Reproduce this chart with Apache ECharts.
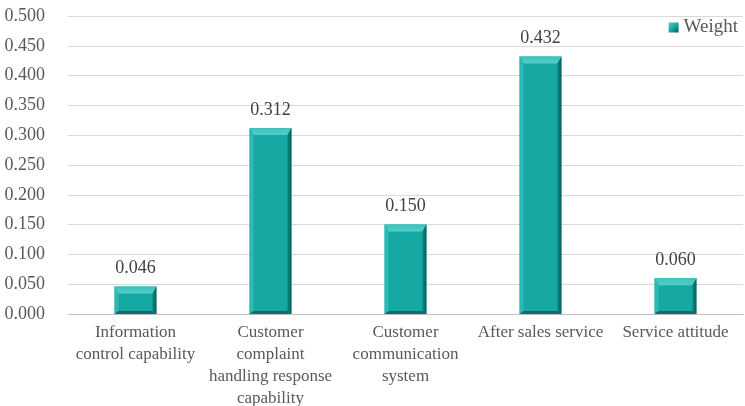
<!DOCTYPE html>
<html>
<head>
<meta charset="utf-8">
<script src="https://cdn.jsdelivr.net/npm/echarts@6/dist/echarts.min.js"></script>
<style>
  html, body { margin: 0; padding: 0; background: #fff; }
  #chart { width: 745px; height: 406px; }
</style>
</head>
<body>
<div id="chart"></div>
<script>
// Category names (line breaks as shown under the axis)
const categories = [
  'Information\ncontrol capability',
  'Customer\ncomplaint\nhandling response\ncapability',
  'Customer\ncommunication\nsystem',
  'After sales service',
  'Service attitude'
];
// Weight per indicator
const weights = [0.046, 0.312, 0.150, 0.432, 0.060];
const seriesName = 'Weight';

const FONT = '"Liberation Serif", "Times New Roman", serif';
const TEXT = '#595959';
const FACE = '#16A9A4';
const TOP = '#52CEC8';
const LEFT = '#2DB9B3';
const RIGHT = '#0A5F5C';
const BOTTOM = '#0B6E6A';

// Bevelled bar: a flat face with four slanted edges
function renderBevelBar(params, api) {
  const v = api.value(1);
  const base = api.coord([api.value(0), 0]);
  const top = api.coord([api.value(0), v]);
  const w = api.size([1, 0])[0] * 0.31;
  const x0 = base[0] - w / 2, x1 = base[0] + w / 2;
  const y0 = top[1], y1 = base[1];
  const h = y1 - y0;
  const bt = Math.min(7, h / 4);   // top bevel depth
  const bs = 4;                     // side bevel
  const bb = Math.min(3, h / 8);   // bottom bevel
  return {
    type: 'group',
    children: [
      { type: 'rect', shape: { x: x0, y: y0, width: w, height: h }, style: { fill: FACE } },
      { type: 'polygon', shape: { points: [[x0, y0], [x1, y0], [x1 - bs, y0 + bt], [x0 + bs, y0 + bt]] },
        style: { fill: { type: 'linear', x: 0, y: 0, x2: 0, y2: 1,
          colorStops: [{ offset: 0, color: '#3FC2BC' }, { offset: 1, color: TOP }] } } },
      { type: 'polygon', shape: { points: [[x0, y0], [x0 + bs, y0 + bt], [x0 + bs, y1 - bb], [x0, y1]] }, style: { fill: LEFT } },
      { type: 'polygon', shape: { points: [[x1, y0], [x1, y1], [x1 - bs, y1 - bb], [x1 - bs, y0 + bt]] },
        style: { fill: { type: 'linear', x: 0, y: 0, x2: 1, y2: 0,
          colorStops: [{ offset: 0, color: '#0E8581' }, { offset: 1, color: RIGHT }] } } },
      { type: 'polygon', shape: { points: [[x0, y1], [x0 + bs, y1 - bb], [x1 - bs, y1 - bb], [x1, y1]] }, style: { fill: BOTTOM } },
      {
        type: 'text',
        x: base[0], y: y0 - 9,
        style: {
          text: v.toFixed(3),
          fill: '#404040',
          font: '18px ' + FONT,
          align: 'center',
          verticalAlign: 'bottom'
        }
      }
    ]
  };
}

const chart = echarts.init(document.getElementById('chart'), null, { renderer: 'canvas' });
chart.setOption({
  backgroundColor: '#ffffff',
  animation: false,
  grid: { left: 68, right: 2, top: 16, bottom: 92, containLabel: false, outerBoundsMode: 'none' },
  legend: {
    right: 2, top: 13,
    itemWidth: 10, itemHeight: 10, itemGap: 4,
    icon: 'rect',
    textStyle: { fontFamily: FONT, fontSize: 19, color: TEXT },
    data: [{ name: seriesName, itemStyle: { color: {
      type: 'linear', x: 0, y: 0, x2: 1, y2: 1,
      colorStops: [{ offset: 0, color: TOP }, { offset: 0.5, color: FACE }, { offset: 1, color: RIGHT }]
    } } }]
  },
  xAxis: {
    type: 'category',
    data: categories,
    axisTick: { show: false },
    axisLine: { lineStyle: { color: '#BFBFBF', width: 1 } },
    axisLabel: {
      interval: 0,
      fontFamily: FONT, fontSize: 17, color: TEXT,
      lineHeight: 22, margin: 8
    }
  },
  yAxis: {
    type: 'value',
    min: 0, max: 0.5, interval: 0.05,
    axisLine: { show: false },
    axisTick: { show: false },
    splitLine: { lineStyle: { color: '#D9D9D9', width: 1 } },
    axisLabel: {
      fontFamily: FONT, fontSize: 18, color: TEXT, margin: 23,
      formatter: v => v.toFixed(3)
    }
  },
  series: [{
    name: seriesName,
    type: 'custom',
    renderItem: renderBevelBar,
    encode: { x: 0, y: 1 },
    itemStyle: { color: FACE },
    data: weights.map((w, i) => [i, w])
  }]
});
</script>
</body>
</html>
